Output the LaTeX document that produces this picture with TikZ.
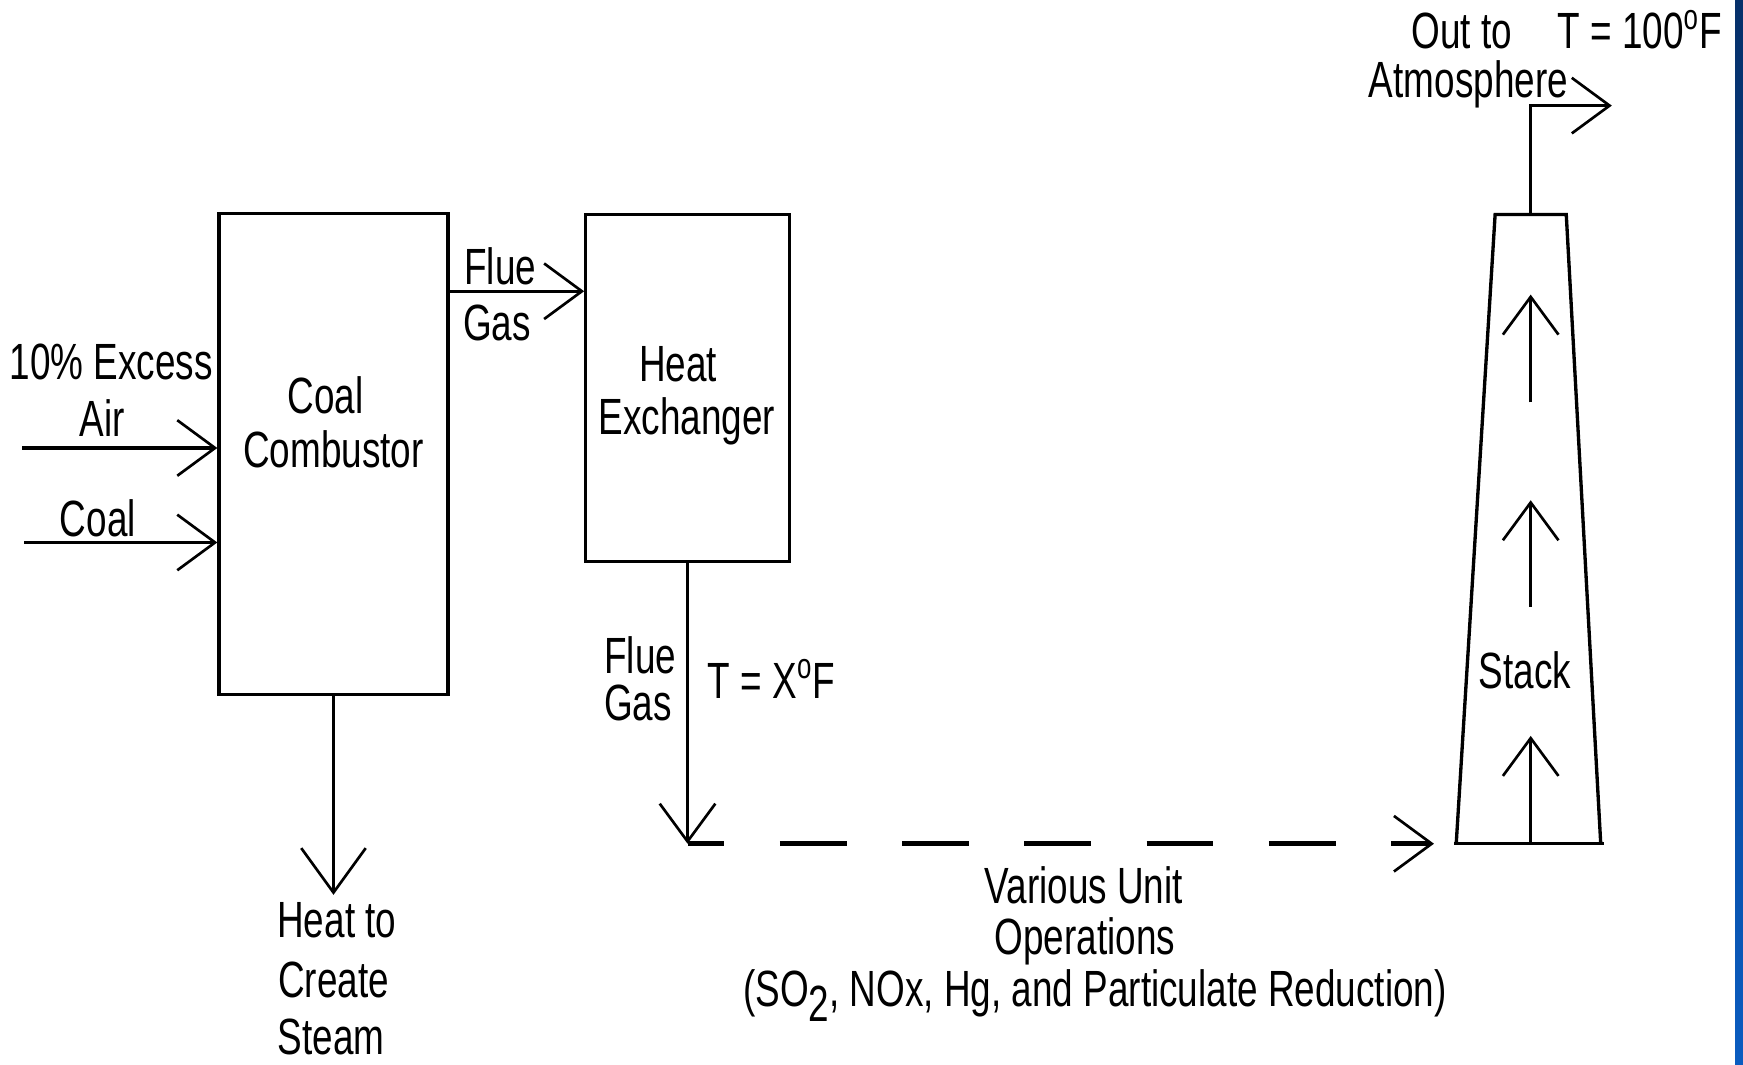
\documentclass[tikz,border=0pt]{standalone}
\usepackage{fontspec}
\setmainfont{Liberation Sans}
\usetikzlibrary{arrows.meta}
\definecolor{stripTop}{HTML}{06306A}
\definecolor{stripBot}{HTML}{0A5CC0}
\begin{document}
\begin{tikzpicture}[x=0.5pt,y=-0.5pt,
  lbl/.style={font=\fontsize{16.6}{19}\selectfont, inner sep=0pt, anchor=base, yscale=1.38},
  box/.style={draw, line width=1.5pt, inner sep=0pt},
  pipe/.style={line width=1.5pt},
  thinpipe/.style={line width=1.1pt},
  vee/.style={-{Straight Barb[length=17pt,width=25pt,line width=1.2pt]}},
  bigvee/.style={-{Straight Barb[length=20pt,width=29pt,line width=1.2pt]}},
  dashline/.style={line width=2pt, dash pattern=on 30pt off 25pt, dash phase=13.5pt}
]
\useasboundingbox (0,0) rectangle (1568,958);
\fill[white] (0,0) rectangle (1568,958);
\shade[top color=stripTop, bottom color=stripBot] (1561,0) rectangle (1568,958);

% boxes
\node[box, minimum width=103pt, minimum height=216.5pt] (cc) at (300,408.5) {};
\node[box, minimum width=91.5pt, minimum height=156pt] (he) at (618.5,349) {};

% stack
\coordinate (sBL) at (1310,759);
\coordinate (sTL) at (1345,193);
\coordinate (sTR) at (1409,193);
\coordinate (sBR) at (1440,759);
\coordinate (sBLx) at (1308,759);
\coordinate (sBRx) at (1443,759);
\coordinate (stTop) at (1377,193);
\coordinate (outBend) at (1377,95);
\coordinate (outEnd) at (1450,95);
\draw[pipe, line join=miter] (sBL) -- (sTL) -- (sTR) -- (sBR);
\draw[pipe] (sBLx) -- (sBRx);
\draw[pipe, vee] (stTop) -- (outBend) -- (outEnd);

% stack inner arrows
\coordinate (a1s) at (1377,362); \coordinate (a1e) at (1377,265);
\coordinate (a2s) at (1377,546); \coordinate (a2e) at (1377,450);
\coordinate (a3s) at (1377,759); \coordinate (a3e) at (1377,662);
\draw[pipe, vee] (a1s) -- (a1e);
\draw[pipe, vee] (a2s) -- (a2e);
\draw[pipe, vee] (a3s) -- (a3e);

% inputs
\coordinate (airS) at (20,403);
\coordinate (coalS) at (22,488);
\coordinate (fgy) at (0,262);
\draw[pipe, vee] (airS) -- (airS -| cc.west);
\draw[pipe, vee] (coalS) -- (coalS -| cc.west);
\draw[pipe, vee] (cc.east |- fgy) -- (he.west |- fgy);

% heat out
\coordinate (heatEnd) at (300,805);
\draw[thinpipe, bigvee] (cc.south) -- (heatEnd);

% flue gas down and dashed line
\coordinate (corner) at (618.5,759);
\draw[thinpipe, vee] (he.south) -- (corner);
\draw[dashline, vee, shorten >=9pt] (corner) -- (sBLx);

% labels
\node[lbl] (t10) at (100,341) {10\% Excess};
\node[lbl] (tair) at (92,393) {Air};
\node[lbl] (tcoal) at (88,483) {Coal};
\node[lbl] (cc1) at (293,372) {Coal};
\node[lbl] (cc2) at (300,421) {Combustor};
\node[lbl] (fg1) at (450,256) {Flue};
\node[lbl] (fg2) at (447,306) {Gas};
\node[lbl] (he1) at (610,343) {Heat};
\node[lbl] (he2) at (618,391) {Exchanger};
\node[lbl] (fd1) at (576,606) {Flue};
\node[lbl] (fd2) at (574,648) {Gas};
\node[lbl] (tx) at (694,628) {T = X\textsuperscript{o}F};
\node[lbl] (h1) at (303,843) {Heat to};
\node[lbl] (h2) at (300,897) {Create};
\node[lbl] (h3) at (298,949) {Steam};
\node[lbl] (v1) at (975,813) {Various Unit};
\node[lbl] (v2) at (976,859) {Operations};
\node[lbl] (v3) at (985,905) {(SO\raisebox{-0.3em}{2}, NOx, Hg, and Particulate Reduction)};
\node[lbl] (st) at (1372,619) {Stack};
\node[lbl] (o1) at (1315,44) {Out to};
\node[lbl] (o2) at (1475,44) {T = 100\textsuperscript{o}F};
\node[lbl] (o3) at (1321,88) {Atmosphere};
\end{tikzpicture}
\end{document}
